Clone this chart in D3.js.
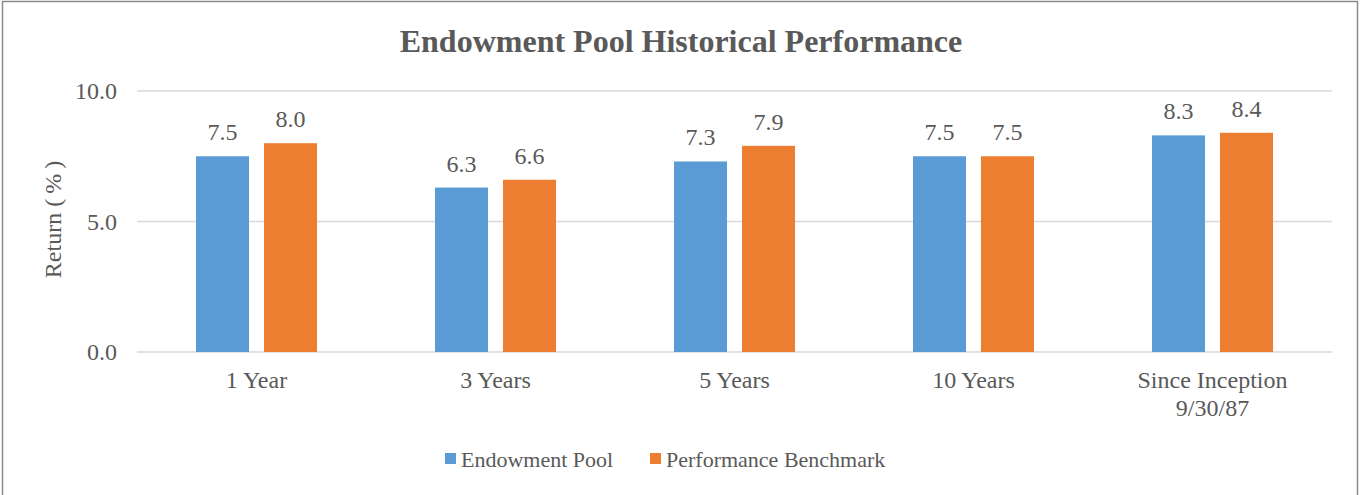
<!DOCTYPE html>
<html>
<head>
<meta charset="utf-8">
<title>Endowment Pool Historical Performance</title>
<script src="https://d3js.org/d3.v7.min.js"></script>
<style>
  body { margin: 0; background: #fff; }
  svg text { font-family: 'Liberation Serif', 'Times New Roman', Times, serif; fill: #595959; }
</style>
</head>
<body>
<svg width="1361" height="495"></svg>
<script>
// chart data
var categories = [["1 Year"], ["3 Years"], ["5 Years"], ["10 Years"], ["Since Inception", "9/30/87"]];
var seriesNames = ["Endowment Pool", "Performance Benchmark"];
var seriesColors = ["#5B9BD5", "#ED7D31"];
var endowmentPool = [7.5, 6.3, 7.3, 7.5, 8.3];
var benchmark = [8.0, 6.6, 7.9, 7.5, 8.4];
var yTicks = [0, 5, 10];

var svg = d3.select("svg"),
    margin = {top: 91, right: 29, bottom: 143, left: 137},
    width = +svg.attr("width") - margin.left - margin.right,
    height = +svg.attr("height") - margin.top - margin.bottom;

// outer border
svg.append("rect")
  .attr("x", 2.5).attr("y", 1.5)
  .attr("width", 1355).attr("height", 520)
  .attr("fill", "none")
  .attr("stroke", "#8a8a8a")
  .attr("stroke-width", 1.5);

svg.append("text")
  .attr("x", 681).attr("y", 52)
  .attr("text-anchor", "middle")
  .style("font-weight", "bold")
  .style("font-size", "32px")
  .text("Endowment Pool Historical Performance");

var g = svg.append("g")
  .attr("transform", "translate(" + margin.left + "," + margin.top + ")");

var x = d3.scaleBand().domain(d3.range(categories.length)).range([0, width]);
var x1 = d3.scaleBand().domain(d3.range(seriesNames.length))
  .range([x.bandwidth() / 2 - 60.5, x.bandwidth() / 2 + 60.5])
  .paddingInner(0.22);
var y = d3.scaleLinear().domain([0, 10]).range([height, 0]);

// gridlines
g.selectAll(".grid")
  .data(yTicks)
  .enter().append("line")
  .attr("x1", 0).attr("x2", width)
  .attr("y1", function(d) { return y(d); })
  .attr("y2", function(d) { return y(d); })
  .attr("stroke", "#d9d9d9")
  .attr("stroke-width", 1.5);

// y tick labels
g.selectAll(".ytick")
  .data(yTicks)
  .enter().append("text")
  .attr("x", -20)
  .attr("y", function(d) { return y(d); })
  .attr("dy", "0.35em")
  .attr("text-anchor", "end")
  .style("font-size", "24px")
  .text(function(d) { return d3.format(".1f")(d); });

var rows = categories.map(function(c, i) {
  return [endowmentPool[i], benchmark[i]];
});

var groups = g.selectAll(".group")
  .data(rows)
  .enter().append("g")
  .attr("transform", function(d, i) { return "translate(" + x(i) + ",0)"; });

groups.selectAll("rect")
  .data(function(d) { return d; })
  .enter().append("rect")
  .attr("x", function(d, j) { return x1(j); })
  .attr("y", function(d) { return y(d); })
  .attr("width", x1.bandwidth())
  .attr("height", function(d) { return height - y(d); })
  .attr("fill", function(d, j) { return seriesColors[j]; });

groups.selectAll(".label")
  .data(function(d) { return d; })
  .enter().append("text")
  .attr("x", function(d, j) { return x1(j) + x1.bandwidth() / 2; })
  .attr("y", function(d) { return y(d) - 16; })
  .attr("text-anchor", "middle")
  .style("font-size", "24px")
  .text(function(d) { return d3.format(".1f")(d); });

// category labels
var cat = g.selectAll(".cat")
  .data(categories)
  .enter().append("text")
  .attr("x", function(d, i) { return x(i) + x.bandwidth() / 2; })
  .attr("y", height + 36)
  .attr("text-anchor", "middle")
  .style("font-size", "24px");
cat.selectAll("tspan")
  .data(function(d) { return d; })
  .enter().append("tspan")
  .attr("x", function() { return d3.select(this.parentNode).attr("x"); })
  .attr("dy", function(d, k) { return k ? 28 : 0; })
  .text(function(d) { return d; });

// y axis title
var yTitle = svg.append("text")
  .attr("transform", "translate(61,217) rotate(-90)")
  .attr("text-anchor", "middle")
  .style("font-size", "24px")
  .text("Return ");
yTitle.append("tspan")
  .style("letter-spacing", "5px")
  .text("(%)");

// legend
var legendX = [445, 650];
var legend = svg.selectAll(".legend")
  .data(seriesNames)
  .enter().append("g")
  .attr("transform", function(d, i) { return "translate(" + legendX[i] + ",453)"; });
legend.append("rect")
  .attr("width", 11).attr("height", 11)
  .attr("fill", function(d, i) { return seriesColors[i]; });
legend.append("text")
  .attr("x", 16).attr("y", 14)
  .style("font-size", "22px")
  .text(function(d) { return d; });
</script>
</body>
</html>
